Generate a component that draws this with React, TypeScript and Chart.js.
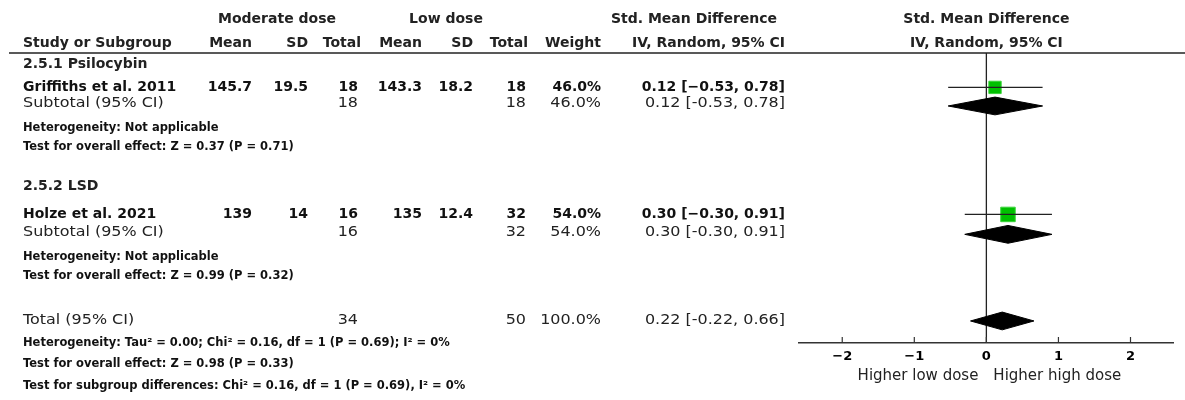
import React, { useEffect, useRef } from "react";
import { Chart, registerables } from "chart.js";

Chart.register(...registerables);

// ---------------- data ----------------
const subgroupTitles = ["2.5.1 Psilocybin", "2.5.2 LSD"];
const studies = ["Griffiths et al. 2011", "Holze et al. 2021"];
const modMean = [145.7, 139];
const modSD = [19.5, 14];
const modTotal = [18, 16];
const lowMean = [143.3, 135];
const lowSD = [18.2, 12.4];
const lowTotal = [18, 32];
const weights = [46.0, 54.0];
const smd = [0.12, 0.3];
const ciLow = [-0.53, -0.3];
const ciHigh = [0.78, 0.91];

const subSmd = [0.12, 0.3];
const subLow = [-0.53, -0.3];
const subHigh = [0.78, 0.91];
const subModTotal = [18, 16];
const subLowTotal = [18, 32];
const subWeight = [46.0, 54.0];
const subHet = ["Heterogeneity: Not applicable", "Heterogeneity: Not applicable"];
const subTest = [
  "Test for overall effect: Z = 0.37 (P = 0.71)",
  "Test for overall effect: Z = 0.99 (P = 0.32)",
];

const totalLabel = "Total (95% CI)";
const totalSmd = 0.22;
const totalLow = -0.22;
const totalHigh = 0.66;
const totalModN = 34;
const totalLowN = 50;
const totalWeight = 100.0;
const totalNotes = [
  "Heterogeneity: Tau\u00B2 = 0.00; Chi\u00B2 = 0.16, df = 1 (P = 0.69); I\u00B2 = 0%",
  "Test for overall effect: Z = 0.98 (P = 0.33)",
  "Test for subgroup differences: Chi\u00B2 = 0.16, df = 1 (P = 0.69), I\u00B2 = 0%",
];

const xTicks = [-2, -1, 0, 1, 2];
const xMin = -2.6;
const xMax = 2.6;
const favLeft = "Higher low dose";
const favRight = "Higher high dose";

const headerGroups = ["Moderate dose", "Low dose", "Std. Mean Difference", "Std. Mean Difference"];
const headerCols = ["Study or Subgroup", "Mean", "SD", "Total", "Mean", "SD", "Total", "Weight", "IV, Random, 95% CI", "IV, Random, 95% CI"];

// ---------------- layout (line positions in row units) ----------------
const ROWS = {
  head1: -1.75,
  head2: -0.52,
  group: [0.6, 6.9],
  study: [1.78, 8.35],
  subText: [2.6, 9.3],
  subDiamond: [2.74, 9.38],
  het: [3.9, 10.57],
  test: [4.88, 11.56],
  totalText: 13.83,
  totalDiamond: 13.86,
  notes: [15.02, 16.11, 17.2],
};
const Y_MAX = 15;
const DIAMOND_HALF = 0.46;

const W = 1185;
const H = 400;
const PLOT_LEFT = 799;
const PLOT_RIGHT = 1178;
const PLOT_TOP = 53;
const PLOT_BOTTOM = 343;
const AXIS_H = 24;

const COL = {
  name: 23,
  modMean: 252,
  modSD: 308,
  modTotal: 358,
  lowMean: 422,
  lowSD: 473,
  lowTotal: 526,
  weight: 601,
  ci: 785,
};

const FONT = '"DejaVu Sans", "Noto Sans", sans-serif';

const fmt = (v: number) => String(v);
const fmtCI = (e: number, lo: number, hi: number, minus: string) => {
  const f = (v: number) => (v < 0 ? minus + Math.abs(v).toFixed(2) : v.toFixed(2));
  return `${f(e)} [${f(lo)}, ${f(hi)}]`;
};
const fmtTick = (v: number) => (v < 0 ? "\u2212" + Math.abs(v) : String(v));

const tablePlugin = {
  id: "forestTable",
  beforeDatasetsDraw(chart: any) {
    const { ctx, chartArea, scales } = chart;
    const x0 = scales.x.getPixelForValue(0);
    ctx.save();
    ctx.strokeStyle = "#222";
    ctx.lineWidth = 1.3;
    ctx.beginPath();
    ctx.moveTo(x0, chartArea.top);
    ctx.lineTo(x0, chartArea.bottom);
    ctx.stroke();
    ctx.restore();
  },
  afterDraw(chart: any) {
    const { ctx, chartArea, scales } = chart;
    const y = (r: number) => scales.y.getPixelForValue(r);
    ctx.save();
    // header rule
    ctx.strokeStyle = "#222";
    ctx.lineWidth = 1.5;
    ctx.beginPath();
    ctx.moveTo(9, chartArea.top);
    ctx.lineTo(W, chartArea.top);
    ctx.stroke();

    // tick marks pointing up
    ctx.lineWidth = 1.2;
    ctx.strokeStyle = "#333";
    xTicks.forEach((v) => {
      const px = scales.x.getPixelForValue(v);
      ctx.beginPath();
      ctx.moveTo(px, chartArea.bottom - 6);
      ctx.lineTo(px, chartArea.bottom);
      ctx.stroke();
    });

    ctx.textBaseline = "middle";
    const text = (
      s: string,
      x: number,
      yy: number,
      align: CanvasTextAlign,
      font: string,
      color = "#111",
      sx = 1
    ) => {
      ctx.save();
      ctx.font = font;
      ctx.fillStyle = color;
      ctx.textAlign = align;
      ctx.translate(x, yy);
      ctx.scale(sx, 1);
      ctx.fillText(s, 0, 0);
      ctx.restore();
    };
    const hb = `bold 14px ${FONT}`;
    const rb = `bold 14px ${FONT}`;
    const rn = `14px ${FONT}`;
    const RS = 1.14;
    const nb = `bold 11.5px ${FONT}`;
    const hc = "#222";
    const xc = scales.x.getPixelForValue(0);

    // headers
    const h1 = y(ROWS.head1);
    text(headerGroups[0], 277, h1, "center", hb, hc);
    text(headerGroups[1], 446, h1, "center", hb, hc);
    text(headerGroups[2], 694, h1, "center", hb, hc);
    text(headerGroups[3], xc, h1, "center", hb, hc);
    const h2 = y(ROWS.head2);
    text(headerCols[0], COL.name, h2, "left", hb, hc);
    text(headerCols[1], COL.modMean, h2, "right", hb, hc);
    text(headerCols[2], COL.modSD, h2, "right", hb, hc);
    text(headerCols[3], COL.modTotal + 3, h2, "right", hb, hc);
    text(headerCols[4], COL.lowMean, h2, "right", hb, hc);
    text(headerCols[5], COL.lowSD, h2, "right", hb, hc);
    text(headerCols[6], COL.lowTotal + 2, h2, "right", hb, hc);
    text(headerCols[7], COL.weight, h2, "right", hb, hc);
    text(headerCols[8], COL.ci, h2, "right", hb, hc);
    text(headerCols[9], xc, h2, "center", hb, hc);

    for (let i = 0; i < studies.length; i++) {
      text(subgroupTitles[i], COL.name, y(ROWS.group[i]), "left", hb, hc);
      const sy = y(ROWS.study[i]);
      text(studies[i], COL.name, sy, "left", rb);
      text(fmt(modMean[i]), COL.modMean, sy, "right", rb);
      text(fmt(modSD[i]), COL.modSD, sy, "right", rb);
      text(fmt(modTotal[i]), COL.modTotal, sy, "right", rb);
      text(fmt(lowMean[i]), COL.lowMean, sy, "right", rb);
      text(fmt(lowSD[i]), COL.lowSD, sy, "right", rb);
      text(fmt(lowTotal[i]), COL.lowTotal, sy, "right", rb);
      text(weights[i].toFixed(1) + "%", COL.weight, sy, "right", rb);
      text(fmtCI(smd[i], ciLow[i], ciHigh[i], "\u2212"), COL.ci, sy, "right", rb);

      const ty = y(ROWS.subText[i]);
      text("Subtotal (95% CI)", COL.name, ty, "left", rn, "#222", RS);
      text(fmt(subModTotal[i]), COL.modTotal, ty, "right", rn, "#222", RS);
      text(fmt(subLowTotal[i]), COL.lowTotal, ty, "right", rn, "#222", RS);
      text(subWeight[i].toFixed(1) + "%", COL.weight, ty, "right", rn, "#222", RS);
      text(fmtCI(subSmd[i], subLow[i], subHigh[i], "-"), COL.ci, ty, "right", rn, "#222", RS);

      text(subHet[i], COL.name, y(ROWS.het[i]), "left", nb);
      text(subTest[i], COL.name, y(ROWS.test[i]), "left", nb);
    }

    const tt = y(ROWS.totalText);
    text(totalLabel, COL.name, tt, "left", rn, "#222", RS);
    text(fmt(totalModN), COL.modTotal, tt, "right", rn, "#222", RS);
    text(fmt(totalLowN), COL.lowTotal, tt, "right", rn, "#222", RS);
    text(totalWeight.toFixed(1) + "%", COL.weight, tt, "right", rn, "#222", RS);
    text(fmtCI(totalSmd, totalLow, totalHigh, "-"), COL.ci, tt, "right", rn, "#222", RS);
    totalNotes.forEach((s, k) => text(s, COL.name, y(ROWS.notes[k]), "left", nb));

    // favours labels
    const fy = chartArea.bottom + 33;
    text(favLeft, xc - 8, fy, "right", `15px ${FONT}`, "#222");
    text(favRight, xc + 7, fy, "left", `15px ${FONT}`, "#222");
    ctx.restore();
  },
};

export default function App() {
  const ref = useRef<HTMLCanvasElement | null>(null);
  useEffect(() => {
    if (!ref.current) return;
    const diamond = (lo: number, e: number, hi: number, r: number) => [
      { x: lo, y: r },
      { x: e, y: r - DIAMOND_HALF },
      { x: hi, y: r },
      { x: e, y: r + DIAMOND_HALF },
      { x: lo, y: r },
    ];
    const datasets: any[] = [];
    studies.forEach((_, i) => {
      datasets.push({
        data: [
          { x: ciLow[i], y: ROWS.study[i] },
          { x: ciHigh[i], y: ROWS.study[i] },
        ],
        showLine: true,
        borderColor: "#222",
        borderWidth: 1.2,
        pointRadius: 0,
      });
    });
    datasets.push({
      data: studies.map((_, i) => ({ x: smd[i], y: ROWS.study[i] })),
      pointStyle: "rect",
      pointRadius: (c: any) => weights[c.dataIndex] * 0.19,
      backgroundColor: "#00c000",
      borderColor: "#3ad43a",
      borderWidth: 1,
    });
    studies.forEach((_, i) => {
      datasets.push({
        data: diamond(subLow[i], subSmd[i], subHigh[i], ROWS.subDiamond[i]),
        showLine: true,
        fill: "shape",
        backgroundColor: "#000",
        borderColor: "#000",
        borderWidth: 1,
        pointRadius: 0,
      });
    });
    datasets.push({
      data: diamond(totalLow, totalSmd, totalHigh, ROWS.totalDiamond),
      showLine: true,
      fill: "shape",
      backgroundColor: "#000",
      borderColor: "#000",
      borderWidth: 1,
      pointRadius: 0,
    });

    const chart = new Chart(ref.current, {
      type: "scatter",
      data: { datasets },
      options: {
        animation: false,
        responsive: false,
        maintainAspectRatio: false,
        events: [],
        layout: {
          padding: {
            left: PLOT_LEFT,
            right: W - PLOT_RIGHT,
            top: PLOT_TOP,
            bottom: H - PLOT_BOTTOM - AXIS_H,
          },
        },
        plugins: { legend: { display: false }, tooltip: { enabled: false } },
        scales: {
          x: {
            type: "linear",
            min: xMin,
            max: xMax,
            afterBuildTicks: (s: any) => {
              s.ticks = xTicks.map((v) => ({ value: v }));
            },
            afterFit: (s: any) => {
              s.height = AXIS_H;
            },
            grid: { display: false, drawTicks: false },
            border: { display: true, color: "#333", width: 1.5 },
            ticks: {
              callback: (v: any) => fmtTick(Number(v)),
              font: { family: FONT, size: 13, weight: "bold" },
              color: "#000",
              padding: 6,
              autoSkip: false,
              maxRotation: 0,
            },
          },
          y: { type: "linear", reverse: true, min: 0, max: Y_MAX, display: false },
        },
      },
      plugins: [tablePlugin],
    } as any);
    return () => chart.destroy();
  }, []);
  return (
    <div style={{ position: "fixed", left: 0, top: 0, width: W, height: H, background: "#fff" }}>
      <canvas ref={ref} width={W} height={H} style={{ width: W, height: H, display: "block" }} />
    </div>
  );
}
